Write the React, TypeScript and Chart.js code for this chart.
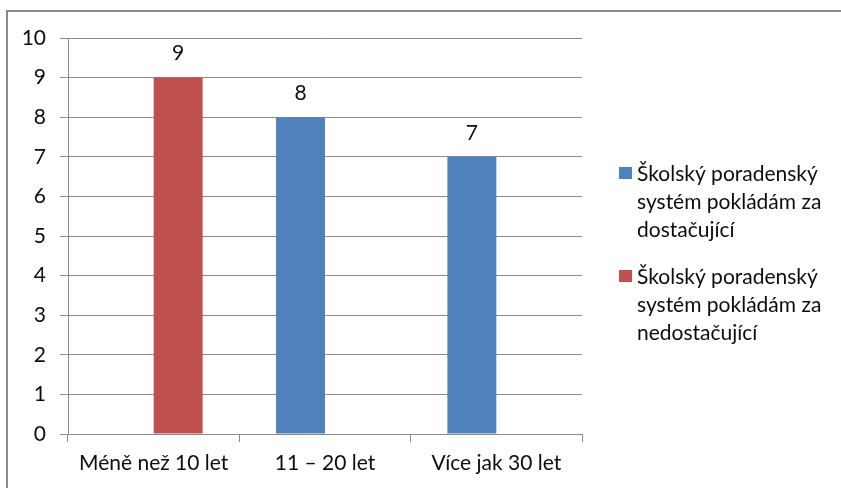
import { useEffect, useRef } from "react";
import { Chart, registerables } from "chart.js";

Chart.register(...registerables);

const categories = ["Méně než 10 let", "11 – 20 let", "Více jak 30 let"];
const seriesLabels = [
  ["Školský poradenský", "systém pokládám za", "dostačující"],
  ["Školský poradenský", "systém pokládám za", "nedostačující"],
];
const dostacujici: (number | null)[] = [null, 8, 7];
const nedostacujici: (number | null)[] = [9, null, null];
const yMin = 0;
const yMax = 10;
const yStep = 1;

const BLUE = "#4F81BD";
const RED = "#C0504D";
const GRID = "#8a8a8a";
const TEXT = "#0d0d0d";
const FONT = "Lato, 'Open Sans', sans-serif";
const FS = 21;

const valueLabels = {
  id: "valueLabels",
  afterDatasetsDraw(chart: any) {
    const ctx = chart.ctx;
    ctx.save();
    ctx.font = `${FS}px ${FONT}`;
    ctx.fillStyle = TEXT;
    ctx.textAlign = "center";
    ctx.textBaseline = "middle";
    chart.data.datasets.forEach((ds: any, di: number) => {
      const meta = chart.getDatasetMeta(di);
      meta.data.forEach((bar: any, i: number) => {
        const v = ds.data[i];
        if (v === null || v === undefined) return;
        ctx.fillText(String(v), bar.x, bar.y - 24);
      });
    });
    ctx.restore();
  },
};

const frameAndLegend = {
  id: "frameAndLegend",
  beforeDraw(chart: any) {
    const ctx = chart.ctx;
    ctx.save();
    ctx.fillStyle = "#ffffff";
    ctx.fillRect(0, 0, chart.width, chart.height);
    ctx.strokeStyle = "#8c8c8c";
    ctx.lineWidth = 2;
    ctx.beginPath();
    ctx.moveTo(chart.width + 2, 11);
    ctx.lineTo(7, 11);
    ctx.lineTo(7, chart.height + 2);
    ctx.stroke();
    ctx.restore();
  },
  afterDraw(chart: any) {
    const ctx = chart.ctx;
    ctx.save();
    ctx.font = `${FS}px ${FONT}`;
    ctx.fillStyle = TEXT;
    ctx.textAlign = "left";
    ctx.textBaseline = "alphabetic";
    const boxX = 619;
    const textX = 637;
    const lineH = 28;
    const starts = [181, 284];
    chart.data.datasets.forEach((ds: any, di: number) => {
      const base = starts[di];
      ctx.fillStyle = ds.backgroundColor;
      ctx.fillRect(boxX, base - 14, 13, 12);
      ctx.fillStyle = TEXT;
      seriesLabels[di].forEach((line, li) => {
        ctx.fillText(line, textX, base + li * lineH);
      });
    });
    ctx.restore();
  },
};

export default function App() {
  const ref = useRef<HTMLCanvasElement>(null);
  useEffect(() => {
    if (!ref.current) return;
    const chart = new Chart(ref.current, {
      type: "bar",
      data: {
        labels: categories,
        datasets: [
          {
            label: seriesLabels[0].join(" "),
            data: dostacujici,
            backgroundColor: BLUE,
            categoryPercentage: 2 / 3.5,
            barPercentage: 1,
          },
          {
            label: seriesLabels[1].join(" "),
            data: nedostacujici,
            backgroundColor: RED,
            categoryPercentage: 2 / 3.5,
            barPercentage: 1,
          },
        ],
      },
      options: {
        responsive: false,
        animation: false,
        layout: { padding: { top: 38, right: 259, left: 0, bottom: 0 } },
        plugins: {
          legend: { display: false },
          tooltip: { enabled: false },
          title: { display: false },
        },
        scales: {
          x: {
            offset: true,
            grid: {
              offset: true,
              drawOnChartArea: false,
              drawTicks: true,
              tickLength: 8,
              color: GRID,
            },
            border: { display: true, color: GRID },
            ticks: {
              color: TEXT,
              font: { family: FONT, size: FS },
              padding: 9,
              maxRotation: 0,
            },
            afterFit: (s: any) => {
              s.height = 54;
            },
          },
          y: {
            min: yMin,
            max: yMax,
            grid: { color: GRID, tickLength: 8, drawTicks: true },
            border: { display: true, color: GRID },
            ticks: {
              stepSize: yStep,
              color: TEXT,
              font: { family: FONT, size: FS },
              padding: 14,
            },
            afterFit: (s: any) => {
              s.width = 68;
            },
          },
        },
      },
      plugins: [frameAndLegend, valueLabels],
    });
    return () => chart.destroy();
  }, []);
  return (
    <div style={{ position: "absolute", left: 0, top: 0, width: 841, height: 488 }}>
      <canvas ref={ref} width={841} height={488} />
    </div>
  );
}
